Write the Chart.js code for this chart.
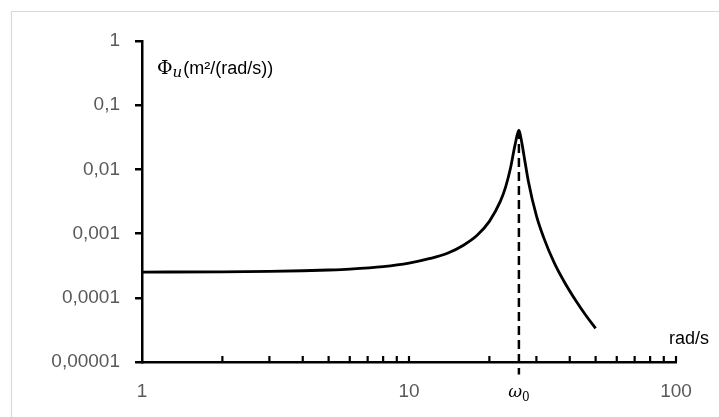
<!DOCTYPE html>
<html>
<head>
<meta charset="utf-8">
<script src="https://cdn.jsdelivr.net/npm/chart.js@4.4.0/dist/chart.umd.min.js"></script>
<style>
  html, body { margin: 0; padding: 0; background: #ffffff; }
  #wrap { position: relative; width: 719px; height: 417px; }
  canvas { display: block; }
</style>
</head>
<body>
<div id="wrap"><canvas id="c" width="719" height="417"></canvas></div>
<script>
// ---- data ----
const omega = [1, 2, 3, 4, 5, 6, 8, 10, 12, 14, 16, 18, 20, 22, 23, 24, 25, 25.8, 26.5, 27, 28, 30, 32, 35, 38, 42, 46, 50];
const phiU  = [0.000252, 0.000254, 0.000258, 0.000264, 0.000271, 0.00028, 0.000306, 0.000347, 0.00041, 0.0005, 0.00066, 0.00094, 0.00155, 0.0032, 0.0053, 0.0105, 0.025, 0.041, 0.025, 0.0158, 0.0065, 0.0019, 0.00085, 0.00035, 0.000183, 0.0000925, 0.000053, 0.0000335];
const omega0 = 25.8;
const omega0Peak = 0.041;
const omega0Bottom = 0.0000064;

const xTickValues = [1, 2, 3, 4, 5, 6, 7, 8, 9, 10, 20, 30, 40, 50, 60, 70, 80, 90, 100];
const xTickLabels = { 1: '1', 10: '10', 100: '100' };
const yTickValues = [1, 0.1, 0.01, 0.001, 0.0001, 0.00001];
const yTickLabels = ['1', '0,1', '0,01', '0,001', '0,0001', '0,00001'];

const curveData = omega.map((w, i) => ({ x: w, y: phiU[i] }));
const dashData = [{ x: omega0, y: omega0Peak }, { x: omega0, y: omega0Bottom }];

const TICK_FONT = { family: 'Liberation Sans, Arial, sans-serif', size: 19 };
const GRAY = '#595959';

const decorPlugin = {
  id: 'decor',
  beforeDraw(chart) {
    const ctx = chart.ctx;
    ctx.save();
    ctx.strokeStyle = '#d9d9d9';
    ctx.lineWidth = 1.2;
    ctx.beginPath();
    ctx.moveTo(11.5, 430);
    ctx.lineTo(11.5, 11.5);
    ctx.lineTo(730, 11.5);
    ctx.stroke();
    ctx.restore();
  },
  afterDraw(chart) {
    const ctx = chart.ctx;
    const xs = chart.scales.x;
    const area = chart.chartArea;
    ctx.save();
    // inward minor ticks on x axis
    ctx.strokeStyle = '#000';
    ctx.lineWidth = 2.2;
    xTickValues.forEach(v => {
      if (v === 1) return;
      const px = xs.getPixelForValue(v);
      ctx.beginPath();
      ctx.moveTo(px, area.bottom);
      ctx.lineTo(px, area.bottom - 6);
      ctx.stroke();
    });
    // omega0 label
    const px0 = xs.getPixelForValue(omega0);
    ctx.fillStyle = '#000';
    ctx.textBaseline = 'alphabetic';
    ctx.font = 'italic 17px "DejaVu Serif", serif';
    const wW = ctx.measureText('ω').width;
    ctx.font = '12px "DejaVu Serif", serif';
    const zW = ctx.measureText('0').width;
    let sx = px0 - (wW + zW) / 2;
    ctx.font = 'italic 17px "DejaVu Serif", serif';
    ctx.fillText('ω', sx, 397);
    ctx.font = '12px "DejaVu Serif", serif';
    ctx.fillText('0', sx + wW, 401);
    // y axis title
    let tx = area.left + 15;
    const ty = 74;
    ctx.font = '19px "DejaVu Serif", serif';
    ctx.fillText('Φ', tx, ty);
    tx += ctx.measureText('Φ').width;
    ctx.font = 'italic 15px "DejaVu Serif", serif';
    ctx.fillText('u', tx, ty + 3);
    tx += ctx.measureText('u').width + 1;
    ctx.font = '18px "Liberation Sans", Arial, sans-serif';
    ctx.fillText('(m²/(rad/s))', tx, ty);
    // x axis unit
    ctx.textAlign = 'center';
    ctx.fillText('rad/s', 689, 344);
    ctx.restore();
  }
};

new Chart(document.getElementById('c'), {
  type: 'line',
  data: {
    datasets: [
      {
        data: curveData,
        borderColor: '#000',
        borderWidth: 2.8,
        pointRadius: 0,
        cubicInterpolationMode: 'monotone',
        fill: false
      },
      {
        data: dashData,
        borderColor: '#000',
        borderWidth: 2.5,
        borderDash: [9, 5],
        pointRadius: 0,
        fill: false,
        clip: false
      }
    ]
  },
  options: {
    responsive: false,
    animation: false,
    devicePixelRatio: 1,
    layout: { padding: { left: 0, top: 41, right: 43, bottom: 0 } },
    plugins: { legend: { display: false }, tooltip: { enabled: false } },
    scales: {
      x: {
        type: 'logarithmic',
        min: 1,
        max: 100,
        afterBuildTicks(scale) {
          scale.ticks = xTickValues.map(v => ({ value: v }));
        },
        afterFit(scale) { scale.height = 55; },
        ticks: {
          autoSkip: false,
          maxRotation: 0,
          padding: 18,
          color: GRAY,
          font: TICK_FONT,
          callback(value) { return xTickLabels[value] || ''; }
        },
        grid: { display: false, drawOnChartArea: false, drawTicks: false, tickLength: 0 },
        border: { display: true, color: '#000', width: 2.5 }
      },
      y: {
        type: 'logarithmic',
        min: 0.00001,
        max: 1,
        afterBuildTicks(scale) {
          scale.ticks = yTickValues.map(v => ({ value: v }));
        },
        afterFit(scale) { scale.width = 142; },
        ticks: {
          autoSkip: false,
          padding: 15,
          color: GRAY,
          font: TICK_FONT,
          callback(value) {
            const i = yTickValues.findIndex(v => Math.abs(v - value) / v < 1e-6);
            return i >= 0 ? yTickLabels[i] : '';
          }
        },
        grid: { display: true, drawOnChartArea: false, drawTicks: true, tickLength: 7, color: '#000', lineWidth: 2.5 },
        border: { display: true, color: '#000', width: 2.5 }
      }
    }
  },
  plugins: [decorPlugin]
});
</script>
</body>
</html>
